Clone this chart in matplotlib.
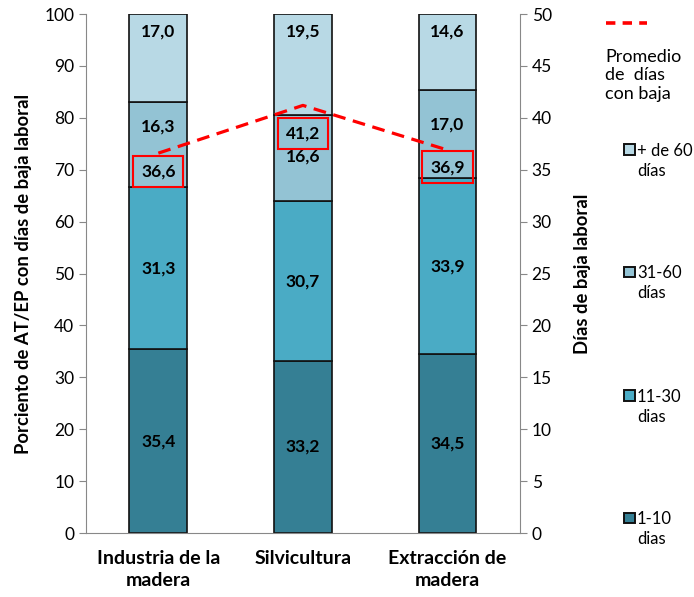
import matplotlib.pyplot as plt
from matplotlib.patches import Rectangle
from matplotlib.lines import Line2D
import numpy as np

categories = ["Industria de la\nmadera", "Silvicultura", "Extracción de\nmadera"]
series_names = ["1-10\ndias", "11-30\ndias", "31-60\ndías", "+ de 60\ndías"]
d1_10 = [35.4, 33.2, 34.5]
d11_30 = [31.3, 30.7, 33.9]
d31_60 = [16.3, 16.6, 17.0]
d60 = [17.0, 19.5, 14.6]
promedio = [36.6, 41.2, 36.9]
colors = ["#357f94", "#4aabc5", "#93c3d4", "#b8d9e5"]


def fmt(v):
    return f"{v:.1f}".replace(".", ",")


def main():
    plt.rcParams["font.family"] = ["Lato", "DejaVu Sans"]
    fig = plt.figure(figsize=(6.94, 5.97), dpi=100)
    ax = fig.add_axes([0.124, 0.107, 0.625, 0.8695])
    x = np.arange(len(categories))
    series = [d1_10, d11_30, d31_60, d60]
    bottom = np.zeros(len(categories))
    for vals, c in zip(series, colors):
        ax.bar(x, vals, 0.4, bottom=bottom, color=c, edgecolor="#111111", linewidth=1.2, zorder=2)
        bottom += np.array(vals)

    # etiquetas de los segmentos
    lab = dict(ha="center", va="center", fontsize=12.5, fontweight="bold", zorder=5)
    y31 = [78.3, 72.5, 78.8]
    for i in range(len(categories)):
        ax.text(x[i], d1_10[i] / 2, fmt(d1_10[i]), **lab)
        ax.text(x[i], d1_10[i] + d11_30[i] / 2, fmt(d11_30[i]), **lab)
        ax.text(x[i], y31[i], fmt(d31_60[i]), **lab)
        ax.text(x[i], 96.6, fmt(d60[i]), **lab)

    ax.set_ylim(0, 100)
    ax.set_xlim(-0.5, 2.5)
    ax.set_yticks(range(0, 101, 10))
    ax.set_xticks(x)
    ax.set_xticklabels(categories, fontsize=14, fontweight="bold", linespacing=1.4)
    ax.tick_params(axis="x", length=0, pad=12)
    ax.tick_params(axis="y", labelsize=12.5, color="#888888", length=5)
    for s in ["top", "right"]:
        ax.spines[s].set_visible(False)
    for s in ["left", "bottom"]:
        ax.spines[s].set_color("#888888")
    ax.set_ylabel("Porciento de AT/EP con días de baja laboral", fontsize=13.3, fontweight="bold", labelpad=9)

    ax2 = ax.twinx()
    ax2.set_ylim(0, 50)
    ax2.set_yticks(range(0, 51, 5))
    ax2.tick_params(axis="y", labelsize=12.5, color="#888888", length=5)
    for s in ["top", "left", "bottom"]:
        ax2.spines[s].set_visible(False)
    ax2.spines["right"].set_color("#888888")
    ax2.set_ylabel("Días de baja laboral", fontsize=13.3, fontweight="bold", labelpad=16)
    ax2.plot(x, promedio, color="red", linestyle=(0, (4, 2.4)), linewidth=2.3, zorder=4)
    off = [-1.75, -2.7, -1.65]
    for i in range(len(categories)):
        ax2.text(x[i], promedio[i] + off[i], fmt(promedio[i]), ha="center", va="center",
                 fontsize=12.5, fontweight="bold", zorder=6,
                 bbox=dict(boxstyle="square,pad=0.45", facecolor="none", edgecolor="red", linewidth=1.5))

    # leyenda manual
    fig.add_artist(Line2D([0.873, 0.932], [0.961, 0.961], color="red", linestyle=(0, (2.6, 2)),
                          linewidth=2.6, transform=fig.transFigure))
    fig.text(0.872, 0.874, "Promedio\nde  días\ncon baja", fontsize=13, va="center", ha="left",
             linespacing=1.2)
    ys = [0.132, 0.337, 0.544, 0.749]
    for name, c, yy in zip(series_names, colors, ys):
        fig.add_artist(Rectangle((0.899, yy - 0.0085), 0.0158, 0.0175, facecolor=c, edgecolor="#111111",
                                 linewidth=1.4, transform=fig.transFigure))
        fig.text(0.918, yy - 0.0185, name, fontsize=12, va="center", ha="left", linespacing=1.3)

    fig.savefig("out.png", dpi=100)


if __name__ == "__main__":
    main()
